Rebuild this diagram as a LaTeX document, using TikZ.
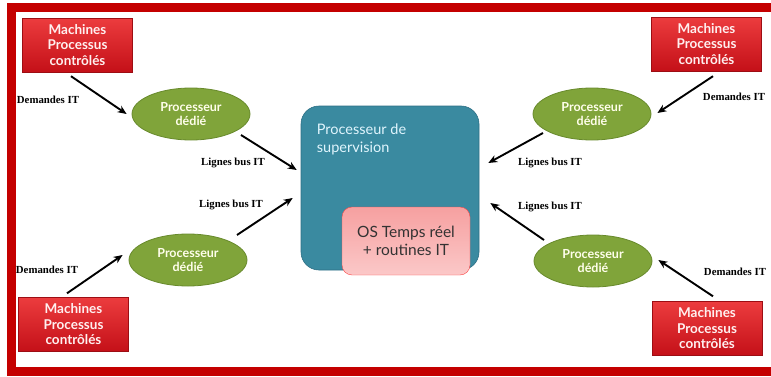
\documentclass[tikz,border=0pt]{standalone}
\usepackage{fontspec}
\setmainfont{Liberation Serif}
\newfontfamily\gillfont{Lato}[BoldFont={Lato Bold}]
\usepackage{tikz}
\usetikzlibrary{shapes.geometric, arrows.meta, positioning, calc}
\definecolor{rougeCadre}{RGB}{196,0,0}
\definecolor{rougeHaut}{RGB}{236,60,62}
\definecolor{rougeBas}{RGB}{196,16,24}
\definecolor{vertProc}{RGB}{128,164,58}
\definecolor{vertBord}{RGB}{104,138,44}
\definecolor{bleuSup}{RGB}{58,138,160}
\definecolor{bleuBord}{RGB}{44,110,132}
\definecolor{roseOS}{RGB}{246,160,160}
\definecolor{roseClair}{RGB}{251,200,200}

\begin{document}
\begin{tikzpicture}[x=1pt, y=1pt,
  mach/.style={minimum width=110pt, minimum height=54pt, inner sep=0pt, align=center,
    top color=rougeHaut, bottom color=rougeBas, draw=rougeBas!80!black, line width=0.4pt,
    font=\gillfont\bfseries\fontsize{13.5}{15.5}\selectfont, text=red!6},
  proc/.style={ellipse, minimum width=118pt, minimum height=52pt, inner sep=0pt, align=center,
    fill=vertProc, draw=vertBord, line width=0.8pt,
    font=\gillfont\bfseries\fontsize{12.5}{14}\selectfont, text=white!92!yellow},
  lbl/.style={font=\bfseries\fontsize{10.8}{12}\selectfont, inner sep=0pt},
  fleche/.style={-{Stealth[length=9pt, width=7.5pt]}, line width=1.9pt, black},
]
  \useasboundingbox (0,0) rectangle (771,376);
  \draw[rougeCadre, line width=9pt] (11,5) rectangle (800,368.5);

  % processeur de supervision
  \node[draw=bleuBord, fill=bleuSup, rounded corners=18pt, minimum width=178pt,
        minimum height=164pt, line width=0.6pt] at (390,188) (sup) {};
  \node[anchor=north west, align=left, inner sep=0pt, text=white!88!cyan,
        font=\gillfont\fontsize{14.5}{18}\selectfont] at ([xshift=16pt, yshift=-18pt]sup.north west) (supT)
        {Processeur de\\supervision};
  \node[draw=red!55!roseOS, top color=roseOS, bottom color=roseClair, rounded corners=10pt,
        minimum width=128pt, minimum height=68pt, align=center, text=black!80,
        font=\gillfont\fontsize{15.5}{18}\selectfont] at (406,135) (os) {OS Temps réel\\+ routines IT};

  \node[mach] at (77.5,331) (m1) {Machines\\Processus\\contrôlés};
  \node[mach] at (73.5,51.5) (m2) {Machines\\Processus\\contrôlés};
  \node[mach] at (706.5,332) (m3) {Machines\\Processus\\contrôlés};
  \node[mach] at (707,47.5) (m4) {Machines\\Processus\\contrôlés};

  \node[proc] at (191,262) (p1) {Processeur\\dédié};
  \node[proc] at (188,116) (p2) {Processeur\\dédié};
  \node[proc] at (592,262) (p3) {Processeur\\dédié};
  \node[proc] at (593,115) (p4) {Processeur\\dédié};

  \node[lbl] at (48,276) (d1) {Demandes IT};
  \node[lbl] at (47,106) (d2) {Demandes IT};
  \node[lbl] at (734,279) (d3) {Demandes IT};
  \node[lbl] at (735,104) (d4) {Demandes IT};
  \node[lbl] at (233,213) (l1) {Lignes bus IT};
  \node[lbl] at (231,171) (l2) {Lignes bus IT};
  \node[lbl] at (550,213) (l3) {Lignes bus IT};
  \node[lbl] at (550,169) (l4) {Lignes bus IT};

  \draw[fleche] ([xshift=-6.5pt, yshift=-4pt]m1.south) -- ([xshift=-5pt]p1.west);
  \draw[fleche] ([xshift=-6.5pt, yshift=4pt]m2.north) -- ([xshift=-6pt, yshift=5pt]p2.west);
  \draw[fleche] ([xshift=6.5pt, yshift=-5pt]m3.south) -- ([xshift=6pt, yshift=1pt]p3.east);
  \draw[fleche] ([xshift=6pt, yshift=5pt]m4.north) -- ([xshift=6pt, yshift=1pt]p4.east);

  \draw[fleche] ([xshift=50pt, yshift=-21pt]p1.center) -- ([xshift=-4pt, yshift=18pt]sup.west);
  \draw[fleche] ([xshift=49pt, yshift=25pt]p2.center) -- ([xshift=-8pt, yshift=-10pt]sup.west);
  \draw[fleche] ([xshift=-49pt, yshift=-19pt]p3.center) -- ([xshift=9pt, yshift=25pt]sup.east);
  \draw[fleche] ([xshift=-49pt, yshift=21pt]p4.center) -- ([xshift=11pt, yshift=-15pt]sup.east);
\end{tikzpicture}
\end{document}
